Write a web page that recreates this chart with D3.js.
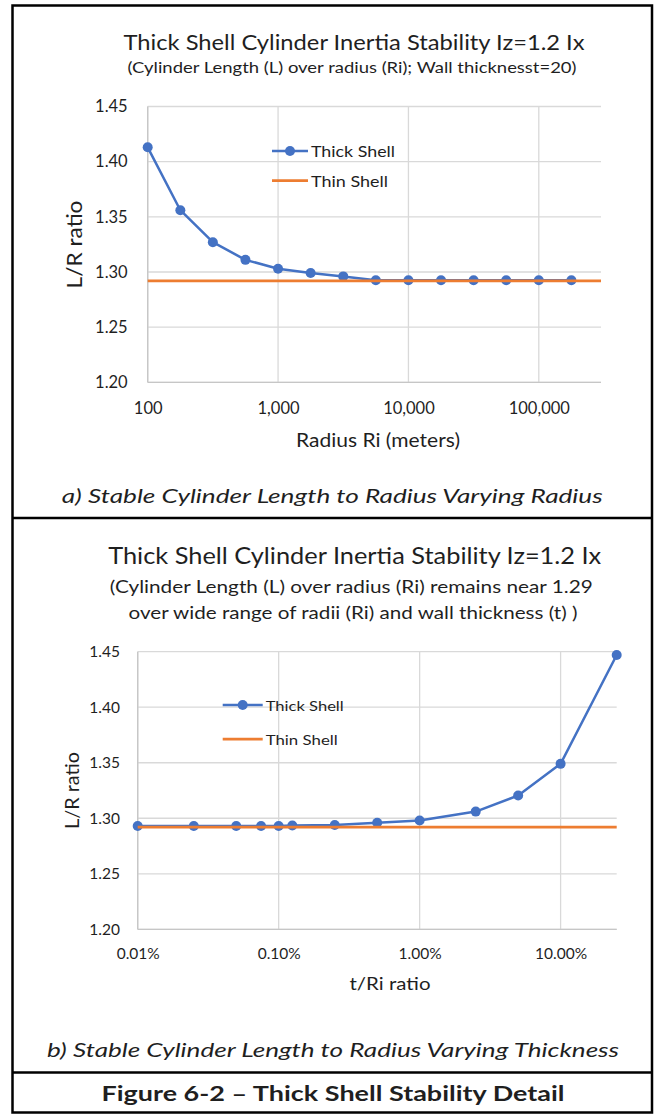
<!DOCTYPE html>
<html>
<head>
<meta charset="utf-8">
<script src="https://cdn.jsdelivr.net/npm/d3@7"></script>
<style>
  body { margin: 0; background: #fff; }
  svg { display: block; font-family: Lato, "Open Sans", sans-serif; }
</style>
</head>
<body>
<div id="chart"></div>
<script>
// ---- data ----
// a) wall thickness t = 20, radius varies
const radiusRi = [100, 178, 316, 562, 1000, 1778, 3162, 5623, 10000, 17783, 31623, 56234, 100000, 177828];
const thickShellA = [1.413, 1.356, 1.327, 1.311, 1.303, 1.299, 1.296, 1.2925, 1.2925, 1.2925, 1.2925, 1.2925, 1.2925, 1.2925];
const thinShellAx = [100, 300000];
const thinShellAy = [1.292, 1.292];
const radiusTicks = [100, 1000, 10000, 100000];

// b) t/Ri ratio varies
const tOverRi = [0.0001, 0.00025, 0.0005, 0.00075, 0.001, 0.00125, 0.0025, 0.005, 0.01, 0.025, 0.05, 0.1, 0.25];
const thickShellB = [1.293, 1.293, 1.293, 1.293, 1.293, 1.2935, 1.294, 1.296, 1.298, 1.306, 1.3205, 1.349, 1.447];
const thinShellBx = [0.0001, 0.25];
const thinShellBy = [1.292, 1.292];
const tRatioTicks = [0.0001, 0.001, 0.01, 0.1];

const ratioTicks = [1.20, 1.25, 1.30, 1.35, 1.40, 1.45];
const seriesNames = ["Thick Shell", "Thin Shell"];

const width = 656, height = 1114;
const blue = "#4472C4", orange = "#ED7D31", grid = "#d9d9d9", ink = "#1f1f1f";

const svg = d3.select("#chart").append("svg")
  .attr("width", width)
  .attr("height", height);

// text helper: size sets the height, len squeezes it to the measured width
function label(x, y, str, size, len, opts = {}) {
  const t = svg.append("text")
    .attr("x", x)
    .attr("y", y)
    .attr("text-anchor", opts.anchor || "middle")
    .attr("fill", ink)
    .style("font-size", size + "px")
    .style("font-style", opts.italic ? "italic" : null)
    .style("font-weight", opts.bold ? "bold" : null)
    .text(str);
  if (len) t.attr("textLength", len).attr("lengthAdjust", "spacingAndGlyphs");
  if (opts.rotate) t.attr("transform", `rotate(-90, ${x}, ${y})`);
  if (opts.central) t.attr("dominant-baseline", "central");
  return t;
}

function drawPanel(p) {
  const x = d3.scaleLog().domain(p.xDomain).range([p.left, p.right]);
  const y = d3.scaleLinear().domain([1.20, 1.45]).range([p.bottom, p.top]);

  // gridlines
  svg.append("g").selectAll("line")
    .data(ratioTicks)
    .join("line")
      .attr("x1", p.left).attr("x2", p.right)
      .attr("y1", d => y(d)).attr("y2", d => y(d))
      .attr("stroke", grid).attr("stroke-width", 1.3);
  svg.append("g").selectAll("line")
    .data(p.xTicks)
    .join("line")
      .attr("x1", d => x(d)).attr("x2", d => x(d))
      .attr("y1", p.top).attr("y2", p.bottom)
      .attr("stroke", grid).attr("stroke-width", 1.3);
  // axis lines
  svg.append("line")
    .attr("x1", p.left).attr("x2", p.right)
    .attr("y1", p.bottom).attr("y2", p.bottom)
    .attr("stroke", "#c6c6c6").attr("stroke-width", 1.3);
  svg.append("line")
    .attr("x1", p.left).attr("x2", p.left)
    .attr("y1", p.top).attr("y2", p.bottom)
    .attr("stroke", "#c6c6c6").attr("stroke-width", 1.3);

  // tick labels
  const yAxis = svg.append("g")
    .attr("transform", `translate(${p.left},0)`)
    .call(d3.axisLeft(y).tickValues(ratioTicks).tickFormat(d3.format(".2f")).tickSize(0).tickPadding(p.yPad));
  yAxis.select(".domain").remove();
  yAxis.selectAll("text")
    .attr("fill", ink)
    .style("font-size", p.tickSize + "px")
    .style("font-family", "Lato, sans-serif");

  const xAxis = svg.append("g")
    .attr("transform", `translate(0,${p.bottom})`)
    .call(d3.axisBottom(x).tickValues(p.xTicks).tickFormat(p.xFormat).tickSize(0).tickPadding(p.xPad));
  xAxis.select(".domain").remove();
  xAxis.selectAll("text")
    .attr("fill", ink)
    .style("font-size", p.tickSize + "px")
    .style("font-family", "Lato, sans-serif");

  // series
  const pts = p.xs.map((v, i) => [v, p.ys[i]]);
  const line = d3.line().x(d => x(d[0])).y(d => y(d[1]));
  svg.append("path")
    .datum(pts)
    .attr("d", line)
    .attr("fill", "none")
    .attr("stroke", blue)
    .attr("stroke-width", 2.5)
    .attr("stroke-linejoin", "round");
  svg.append("g").selectAll("circle")
    .data(pts)
    .join("circle")
      .attr("cx", d => x(d[0]))
      .attr("cy", d => y(d[1]))
      .attr("r", 5)
      .attr("fill", blue);
  svg.append("path")
    .datum(p.thinX.map((v, i) => [v, p.thinY[i]]))
    .attr("d", line)
    .attr("fill", "none")
    .attr("stroke", orange)
    .attr("stroke-width", 2.75);

  // legend
  const lg = p.legend;
  svg.append("line")
    .attr("x1", lg.x).attr("x2", lg.x + lg.w)
    .attr("y1", lg.y).attr("y2", lg.y)
    .attr("stroke", blue).attr("stroke-width", 2.5);
  svg.append("circle")
    .attr("cx", lg.x + lg.w / 2).attr("cy", lg.y).attr("r", 5).attr("fill", blue);
  svg.append("line")
    .attr("x1", lg.x).attr("x2", lg.x + lg.w)
    .attr("y1", lg.y + lg.gap).attr("y2", lg.y + lg.gap)
    .attr("stroke", orange).attr("stroke-width", 2.75);
  label(lg.x + lg.w + 3, lg.y, seriesNames[0], lg.size, lg.len[0], { anchor: "start", central: true });
  label(lg.x + lg.w + 3, lg.y + lg.gap, seriesNames[1], lg.size, lg.len[1], { anchor: "start", central: true });
}

// panel a
label(354, 50, "Thick Shell Cylinder Inertia Stability Iz=1.2 Ix", 21, 461);
label(352, 73, "(Cylinder Length (L) over radius (Ri); Wall thicknesst=20)", 16, 449);
drawPanel({
  left: 147.7, right: 601, top: 106.5, bottom: 382.3,
  xDomain: [100, 300000], xTicks: radiusTicks, xFormat: d3.format(","),
  xs: radiusRi, ys: thickShellA, thinX: thinShellAx, thinY: thinShellAy,
  tickSize: 16.5, yPad: 20, xPad: 20,
  legend: { x: 272, w: 36, y: 151, gap: 29.7, size: 15, len: [84, 77] }
});
label(73, 244.5, "L/R ratio", 21, 88, { rotate: true, central: true });
label(378, 440, "Radius Ri (meters)", 18.5, 164, { central: true });
label(332.2, 503, "a) Stable Cylinder Length to Radius Varying Radius", 20, 541, { italic: true });

// panel b
label(354.7, 564.3, "Thick Shell Cylinder Inertia Stability Iz=1.2 Ix", 22.5, 493);
label(351.3, 593, "(Cylinder Length (L) over radius (Ri) remains near 1.29", 18, 483);
label(353, 619, "over wide range of radii (Ri) and wall thickness (t) )", 18, 449);
drawPanel({
  left: 137.7, right: 616.7, top: 651.7, bottom: 929.3,
  xDomain: [0.0001, 0.25], xTicks: tRatioTicks, xFormat: d3.format(".2%"),
  xs: tOverRi, ys: thickShellB, thinX: thinShellBx, thinY: thinShellBy,
  tickSize: 15.5, yPad: 17.7, xPad: 18.5,
  legend: { x: 222.7, w: 40, y: 705, gap: 34, size: 14, len: [78, 72] }
});
label(71.7, 790.5, "L/R ratio", 19, 77, { rotate: true, central: true });
label(390, 983, "t/Ri ratio", 17, 81, { central: true });
label(333, 1057, "b) Stable Cylinder Length to Radius Varying Thickness", 20, 572, { italic: true });

label(333, 1101, "Figure 6-2 \u2013 Thick Shell Stability Detail", 20.5, 463, { bold: true });

// frame and dividers
svg.append("rect")
  .attr("x", 12.5).attr("y", 5.5)
  .attr("width", 639.5).attr("height", 1107)
  .attr("fill", "none").attr("stroke", "#000").attr("stroke-width", 2.5);
svg.selectAll(".divider")
  .data([518, 1072.5])
  .join("line")
    .attr("class", "divider")
    .attr("x1", 12.5).attr("x2", 652)
    .attr("y1", d => d).attr("y2", d => d)
    .attr("stroke", "#000").attr("stroke-width", 2.5);
</script>
</body>
</html>
